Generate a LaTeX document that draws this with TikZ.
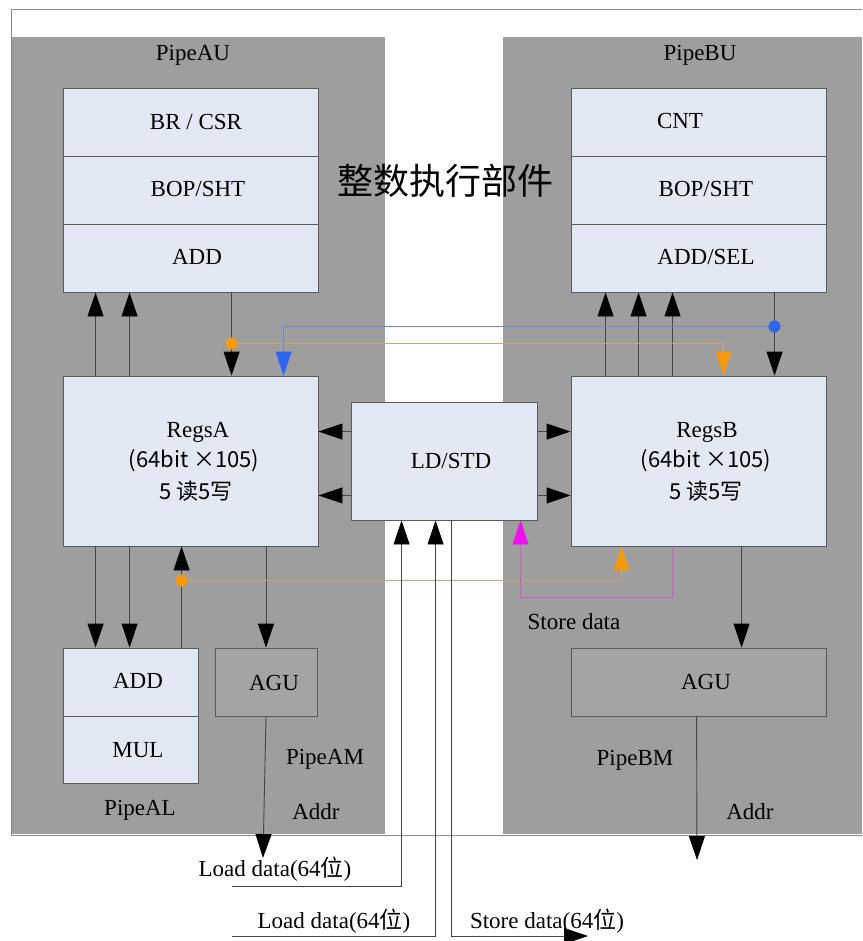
\documentclass[tikz,border=0pt]{standalone}
\usepackage{fontspec}
\setmainfont{Liberation Serif}
\newfontfamily\cjk{Noto Sans CJK SC}
\usetikzlibrary{arrows.meta,calc}
\definecolor{panel}{HTML}{9E9E9E}
\definecolor{boxfill}{HTML}{E3E9F4}
\definecolor{boxline}{HTML}{5A5A5A}
\definecolor{agufill}{HTML}{A4A4A4}
\definecolor{wire}{HTML}{454545}
\definecolor{framecol}{HTML}{8A8A8A}
\definecolor{orng}{HTML}{F39A12}
\definecolor{orngline}{HTML}{D8A070}
\definecolor{blu}{HTML}{2F66F0}
\definecolor{bluline}{HTML}{6A88D8}
\definecolor{magn}{HTML}{F010F0}
\definecolor{magnline}{HTML}{CC5ECC}
\begin{document}
\begin{tikzpicture}[x=1pt,y=-1pt,
  lbl/.style={font=\fontsize{23}{27}\selectfont, inner sep=0pt, text height=15.2pt, text depth=0pt},
  cjklbl/.style={font=\cjk\fontsize{22}{26}\selectfont, inner sep=0pt, text height=17pt, text depth=2pt},
  unitbox/.style={draw=boxline, fill=boxfill, line width=0.9pt, inner sep=0pt},
  agubox/.style={draw=boxline, fill=agufill, line width=0.9pt, inner sep=0pt},
  pan/.style={fill=panel, draw=none, inner sep=0pt},
  arr/.style={draw=wire, line width=0.9pt, -{Triangle[length=24pt,width=16pt,color=black]}},
  orarr/.style={draw=orngline, line width=0.9pt, -{Triangle[length=24pt,width=16pt,color=orng]}},
  bluarr/.style={draw=bluline, line width=0.9pt, -{Triangle[length=24pt,width=16pt,color=blu]}},
  magarr/.style={draw=magnline, line width=0.9pt, -{Triangle[length=24pt,width=16pt,color=magn]}},
  plain/.style={draw=framecol, line width=0.9pt},
  dotst/.style={circle, inner sep=0pt, minimum size=12pt}
]
\useasboundingbox (0,0) rectangle (862,941);
\fill[white] (0,0) rectangle (862,941);

% panels
\node[pan, minimum width=374pt, minimum height=797pt] (panA) at (198,435.5) {};
\node[pan, minimum width=359pt, minimum height=797pt] (panB) at (682.5,435.5) {};
\draw[plain] (862,9) -- (11,9) -- (11,835) -- (862,835);

% title
\node[font=\cjk\fontsize{36}{40}\selectfont, inner sep=0pt, text height=31pt, text depth=4pt] (title) at (445,181) {整数执行部件};

% top units A
\node[unitbox, minimum width=255pt, minimum height=68pt] (brA) at (190.5,122) {};
\node[unitbox, minimum width=255pt, minimum height=68pt] (bopA) at (190.5,190) {};
\node[unitbox, minimum width=255pt, minimum height=68pt] (addA) at (190.5,258) {};
% top units B
\node[unitbox, minimum width=255pt, minimum height=68pt] (cntB) at (698.5,122) {};
\node[unitbox, minimum width=255pt, minimum height=68pt] (bopB) at (698.5,190) {};
\node[unitbox, minimum width=255pt, minimum height=68pt] (addB) at (698.5,258) {};

% register files
\node[unitbox, minimum width=255pt, minimum height=170pt] (regsA) at (190.5,461) {};
\node[unitbox, minimum width=255pt, minimum height=170pt] (regsB) at (698.5,461) {};
\node[unitbox, minimum width=186pt, minimum height=118pt] (ldstd) at (444,461) {};

% lower units
\node[unitbox, minimum width=135pt, minimum height=68pt] (addL) at (130.5,682) {};
\node[unitbox, minimum width=135pt, minimum height=67pt] (mulL) at (130.5,749.5) {};
\node[agubox, minimum width=102pt, minimum height=68pt] (aguA) at (266,682) {};
\node[agubox, minimum width=255pt, minimum height=68pt] (aguB) at (698.5,682) {};

% ---- connectors top left
\draw[arr] ([xshift=33pt]regsA.north west) -- ([xshift=33pt]addA.south west);
\draw[arr] ([xshift=67pt]regsA.north west) -- ([xshift=67pt]addA.south west);
\draw[arr] ([xshift=169pt]addA.south west) -- ([xshift=169pt]regsA.north west);
% top right
\draw[arr] ([xshift=35pt]regsB.north west) -- ([xshift=35pt]addB.south west);
\draw[arr] ([xshift=68pt]regsB.north west) -- ([xshift=68pt]addB.south west);
\draw[arr] ([xshift=102pt]regsB.north west) -- ([xshift=102pt]addB.south west);
\draw[arr] ([xshift=204pt]addB.south west) -- ([xshift=204pt]regsB.north west);

% forwarding buses
\coordinate (od1) at ($(addA.south west)+(169,51)$);
\draw[orarr] (od1) -| ([xshift=153pt]regsB.north west);
\node[dotst, fill=orng] (odot1) at (od1) {};
\coordinate (bd1) at ($(addB.south west)+(204,34)$);
\draw[bluarr] (bd1) -| ([xshift=221pt]regsA.north west);
\node[dotst, fill=blu] (bdot1) at (bd1) {};

% LD/STD to register files
\coordinate (la1) at ([yshift=-30pt]ldstd.north west);
\coordinate (la2) at ([yshift=25pt]ldstd.south west);
\coordinate (ra1) at ([yshift=-30pt]ldstd.north east);
\coordinate (ra2) at ([yshift=25pt]ldstd.south east);
\draw[arr] (la1) -- (la1 -| regsA.east);
\draw[arr] (la2) -- (la2 -| regsA.east);
\draw[arr] (ra1) -- (ra1 -| regsB.west);
\draw[arr] (ra2) -- (ra2 -| regsB.west);

% lower left
\draw[arr] ([xshift=33pt]regsA.south west) -- ([xshift=33pt]addL.north west);
\draw[arr] ([xshift=67pt]regsA.south west) -- ([xshift=67pt]addL.north west);
\draw[arr] ([xshift=119pt]addL.north west) -- ([xshift=119pt]regsA.south west);
\draw[arr] (aguA.north |- regsA.south) -- (aguA.north);
\coordinate (od2) at ($(addL.north west)+(119,-67)$);
\draw[orarr] (od2) -| ([xshift=51pt]regsB.south west);
\node[dotst, fill=orng] (odot2) at (od2) {};

% store data (magenta)
\draw[magarr] ([xshift=102pt]regsB.south west) -- ++(0,51) -| ([xshift=170pt]ldstd.south west);

% lower right
\draw[arr] ([xshift=171pt]regsB.south west) -- ([xshift=171pt]aguB.north west);

% address outputs
\coordinate (aAddr) at (263,858);
\coordinate (bAddr) at (697,860);
\draw[arr] (aguA.south) -- (aAddr);
\draw[arr] ([xshift=126pt]aguB.south west) -- (bAddr);

% load / store data buses
\coordinate (ld1) at (232,886);
\coordinate (ld2) at (232,936);
\coordinate (sdEnd) at (588,936);
\draw[arr] (ld1) -| ([xshift=51pt]ldstd.south west);
\draw[arr] (ld2) -| ([xshift=85pt]ldstd.south west);
\draw[arr] ([xshift=101pt]ldstd.south west) |- (sdEnd);

% ---- labels
\node[lbl] (tPAU) at (193,53) {PipeAU};
\node[lbl] (tPBU) at (700,53) {PipeBU};
\node[lbl] (tBR) at (196,122) {BR / CSR};
\node[lbl] (tBOPA) at (198,189) {BOP/SHT};
\node[lbl] (tADDA) at (197,257) {ADD};
\node[lbl] (tCNT) at (680,121) {CNT};
\node[lbl] (tBOPB) at (706,189) {BOP/SHT};
\node[lbl] (tADDB) at (706,257) {ADD/SEL};
\node[lbl] (tRA) at (198,430) {RegsA};
\node[cjklbl] (tRA2) at (194,460) {(64bit ×105)};
\node[cjklbl] (tRA3) at (196,492) {5 读5写};
\node[lbl] (tRB) at (707,430) {RegsB};
\node[cjklbl] (tRB2) at (706,460) {(64bit ×105)};
\node[cjklbl] (tRB3) at (706,492) {5 读5写};
\node[lbl] (tLD) at (451,461) {LD/STD};
\node[lbl] (tADDL) at (138,681) {ADD};
\node[lbl] (tMUL) at (138,750) {MUL};
\node[lbl] (tAGUA) at (274,683) {AGU};
\node[lbl] (tAGUB) at (706,682) {AGU};
\node[lbl] (tPAL) at (140,808) {PipeAL};
\node[lbl] (tPAM) at (325,757) {PipeAM};
\node[lbl] (tAddrA) at (316,812) {Addr};
\node[lbl] (tPBM) at (635,758) {PipeBM};
\node[lbl] (tAddrB) at (750,812) {Addr};
\node[lbl] (tSD) at (574,622) {Store data};
\node[lbl] (tLD1) at (275,869) {Load data(64{\cjk 位})};
\node[lbl] (tLD2) at (334,921) {Load data(64{\cjk 位})};
\node[lbl] (tSD2) at (547,921) {Store data(64{\cjk 位})};
\end{tikzpicture}
\end{document}
